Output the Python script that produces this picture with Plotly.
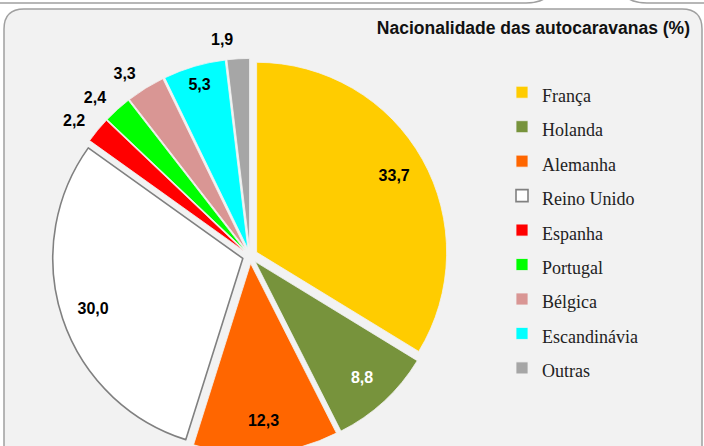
import plotly.graph_objects as go

# ---- data ----
categories = ["França", "Holanda", "Alemanha", "Reino Unido", "Espanha",
              "Portugal", "Bélgica", "Escandinávia", "Outras"]
values = [33.7, 8.8, 12.3, 30.0, 2.2, 2.4, 3.3, 5.3, 1.9]
colors = ["#FFCC00", "#77933C", "#FF6600", "#FFFFFF", "#FF0000",
          "#00FF00", "#D99694", "#00FFFF", "#A6A6A6"]
label_positions = ["inside", "inside", "inside", "inside", "outside",
                   "outside", "outside", "inside", "outside"]
label_colors = ["black", "white", "black", "black", "black",
                "black", "black", "black", "black"]
title_text = "Nacionalidade das autocaravanas (%)"

W, H = 704, 470


def fx(x):
    return x / W


def fy(y):
    return 1 - y / H


value_text = [f"{v:.1f}".replace(".", ",") for v in values]
legend_labels = [f"<span style='font-size:18px'>{c}</span>" for c in categories]

line_colors = ["#F2F2F2"] * len(categories)
line_widths = [0.8] * len(categories)
ru = categories.index("Reino Unido")
line_colors[ru] = "#808080"
line_widths[ru] = 1.6

# pie geometry (pixels)
cx, cy, r, pull = 250, 256, 190, 0.04
half = r * (1 + pull)
r_lab = 208

fig = go.Figure()
fig.add_trace(go.Pie(
    labels=legend_labels, values=values, sort=False, direction="clockwise",
    rotation=0, pull=[pull] * len(values),
    marker=dict(colors=colors, line=dict(color=line_colors, width=line_widths)),
    textinfo="none", hoverinfo="label+value",
    domain=dict(x=[fx(cx - half), fx(cx + half)], y=[fy(cy + half), fy(cy - half)]),
    showlegend=True,
))
# transparent overlay carrying the value labels
fig.add_trace(go.Pie(
    labels=legend_labels, values=values, sort=False, direction="clockwise",
    rotation=0, hole=0.59,
    marker=dict(colors=["rgba(0,0,0,0)"] * len(values), line=dict(width=0)),
    text=value_text, textinfo="text", textposition=label_positions,
    textfont=dict(family="Liberation Sans, Arial", size=16, weight="bold",
                  color=label_colors),
    hoverinfo="skip", showlegend=False,
    domain=dict(x=[fx(cx - r_lab), fx(cx + r_lab)], y=[fy(cy + r_lab), fy(cy - r_lab)]),
))

panel_line = dict(color="#A0A0A0", width=1.5)
R = 20
x0, x1, y0, y1 = 4, 702, 9, H + 40
main_panel = (f"M {fx(x0)},{fy(y0 + R)} Q {fx(x0)},{fy(y0)} {fx(x0 + R)},{fy(y0)} "
              f"L {fx(x1 - R)},{fy(y0)} Q {fx(x1)},{fy(y0)} {fx(x1)},{fy(y0 + R)} "
              f"L {fx(x1)},{fy(y1)} L {fx(x0)},{fy(y1)} Z")
R2 = 30
panel_a = (f"M {fx(-30)},{fy(-60)} L {fx(556)},{fy(-60)} L {fx(556)},{fy(3 - R2)} "
           f"Q {fx(556)},{fy(3)} {fx(556 - R2)},{fy(3)} L {fx(-30)},{fy(3)} Z")
panel_b = (f"M {fx(760)},{fy(-60)} L {fx(617)},{fy(-60)} L {fx(617)},{fy(3 - R2)} "
           f"Q {fx(617)},{fy(3)} {fx(617 + R2)},{fy(3)} L {fx(760)},{fy(3)} Z")

fig.update_layout(
    width=W, height=H,
    margin=dict(l=0, r=0, t=0, b=0),
    paper_bgcolor="white",
    title=dict(text=title_text, x=fx(690), xanchor="right", y=fy(28), yanchor="middle",
               xref="container", yref="container",
               font=dict(family="Liberation Sans, Arial", size=17.5, weight="bold",
                         color="#111111")),
    legend=dict(x=fx(502), xanchor="left", y=fy(70), yanchor="top",
                bgcolor="rgba(0,0,0,0)",
                font=dict(family="Liberation Serif, Times New Roman, serif", size=24.2,
                          color="#222222")),
    shapes=[
        dict(type="path", path=panel_a, xref="paper", yref="paper", layer="below",
             fillcolor="white", line=panel_line),
        dict(type="path", path=panel_b, xref="paper", yref="paper", layer="below",
             fillcolor="white", line=panel_line),
        dict(type="path", path=main_panel, xref="paper", yref="paper", layer="below",
             fillcolor="#F2F2F2", line=panel_line),
    ],
)

fig.write_html(
    "out.html",
    config={"displayModeBar": False},
    post_script="document.documentElement.style.overflow='hidden';"
                "document.body.style.margin='0';document.body.style.overflow='hidden';",
)
